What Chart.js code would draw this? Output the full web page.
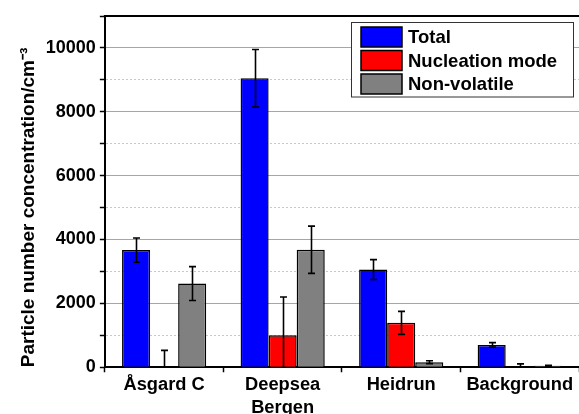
<!DOCTYPE html>
<html><head><meta charset="utf-8">
<script src="https://cdn.jsdelivr.net/npm/chart.js@4/dist/chart.umd.min.js"></script>
<style>html,body{margin:0;padding:0;background:#fff}#wrap{width:579px;height:414px;position:relative}</style>
</head><body><div id="wrap"><canvas id="c"></canvas></div>
<script>
const categories = ["Åsgard C", ["Deepsea", "Bergen"], "Heidrun", "Background"];
const seriesNames = ["Total", "Nucleation mode", "Non-volatile"];
const totalValues = [3670, 9050, 3060, 700];
const totalErrors = [380, 900, 310, 70];
const nucleationValues = [0, 1000, 1390, 20];
const nucleationErrors = [530, 1200, 360, 85];
const nonVolatileValues = [2620, 3680, 160, 45];
const nonVolatileErrors = [530, 740, 45, 15];
const yMin = 0, yMax = 11000, yStep = 1000, yLabelStep = 2000;
const yTitle = "Particle number concentration/cm\u207B\u00B3";

const FONT = "'Liberation Sans', Arial, sans-serif";

const errorBarPlugin = {
  id: 'errorBars',
  afterDatasetsDraw(chart) {
    const {ctx, chartArea, scales: {y}} = chart;
    ctx.save();
    ctx.beginPath();
    ctx.rect(chartArea.left, chartArea.top, chartArea.right - chartArea.left, chartArea.bottom - chartArea.top);
    ctx.clip();
    ctx.strokeStyle = '#000';
    ctx.lineWidth = 1.6;
    chart.data.datasets.forEach((ds, di) => {
      const meta = chart.getDatasetMeta(di);
      meta.data.forEach((bar, i) => {
        const v = ds.data[i], e = ds.errors[i];
        const x = Math.round(bar.x) + 0.5;
        const yt = y.getPixelForValue(v + e), yb = y.getPixelForValue(v - e);
        const cap = 3.5;
        ctx.beginPath();
        ctx.moveTo(x, yt); ctx.lineTo(x, yb);
        ctx.moveTo(x - cap, yt); ctx.lineTo(x + cap, yt);
        ctx.moveTo(x - cap, yb); ctx.lineTo(x + cap, yb);
        ctx.stroke();
      });
    });
    ctx.restore();
  }
};

const framePlugin = {
  id: 'frame',
  afterDraw(chart) {
    const {ctx, chartArea} = chart;
    ctx.save();
    ctx.strokeStyle = '#000';
    ctx.lineWidth = 2;
    ctx.beginPath();
    ctx.moveTo(chartArea.left - 1, chartArea.top);
    ctx.lineTo(chart.width, chartArea.top);
    ctx.stroke();
    // legend box
    const bw = 222, rowH = 23.5, boxW = 41, boxH = 20;
    const lx = chartArea.right - 6 - bw, ly = chartArea.top + 6;
    const n = chart.data.datasets.length;
    const bh = n * rowH + 4;
    ctx.fillStyle = '#fff';
    ctx.fillRect(lx, ly, bw, bh);
    ctx.lineWidth = 1;
    ctx.strokeStyle = '#333';
    ctx.strokeRect(lx + 0.5, ly + 0.5, bw, bh);
    ctx.font = "bold 18.5px " + FONT;
    ctx.textBaseline = 'middle';
    chart.data.datasets.forEach((ds, i) => {
      const by = ly + 5 + i * rowH;
      ctx.fillStyle = ds.backgroundColor;
      ctx.fillRect(lx + 10, by, boxW, boxH);
      ctx.lineWidth = 1.5;
      ctx.strokeStyle = '#000';
      ctx.strokeRect(lx + 10, by, boxW, boxH);
      ctx.fillStyle = '#000';
      ctx.fillText(ds.label, lx + 57, by + boxH / 2 + 1);
    });
    ctx.restore();
  }
};

const mk = (label, data, errors, color) => ({
  label, data, errors,
  backgroundColor: color, borderColor: '#000', borderWidth: 1.5,
  barPercentage: 1.0, categoryPercentage: 0.71
});

new Chart(document.getElementById('c'), {
  type: 'bar',
  data: {
    labels: categories,
    datasets: [
      mk(seriesNames[0], totalValues, totalErrors, '#0000ff'),
      mk(seriesNames[1], nucleationValues, nucleationErrors, '#ff0000'),
      mk(seriesNames[2], nonVolatileValues, nonVolatileErrors, '#808080')
    ]
  },
  options: {
    responsive: true, maintainAspectRatio: false, animation: false,
    devicePixelRatio: 1,
    layout: {padding: {left: 17, top: 16, right: 0, bottom: -6}},
    plugins: {legend: {display: false}, tooltip: {enabled: false}},
    scales: {
      x: {
        grid: {display: true, drawOnChartArea: false, drawTicks: true, tickLength: 5, tickColor: '#000', tickWidth: 1.5, offset: true},
        border: {display: true, color: '#000', width: 2},
        ticks: {color: '#000', padding: 1, font: {family: FONT, size: 18.3, weight: 'bold', lineHeight: 1.25}, maxRotation: 0, autoSkip: false}
      },
      y: {
        min: yMin, max: yMax,
        grid: {
          drawTicks: true, tickLength: 5, tickColor: '#000', tickWidth: 1.5, lineWidth: 1,
          color: (c) => {
            if (!c.tick) return '#999';
            const v = c.tick.value;
            if (v === yMax || v === yMin) return 'rgba(0,0,0,0)';
            return (v % yLabelStep === 0) ? '#a6a6a6' : '#c8c8c8';
          }
        },
        border: {
          display: true, color: '#000', width: 2,
          dash: (c) => (c.tick && c.tick.value % yLabelStep !== 0) ? [2, 2] : []
        },
        ticks: {
          stepSize: yStep, autoSkip: false, color: '#000', padding: 4,
          font: {family: FONT, size: 18, weight: 'bold'},
          callback: (v) => (v % yLabelStep === 0 && v < yMax) ? String(v) : ''
        },
        title: {display: true, text: yTitle, color: '#000', align: 'start', padding: {top: 0, bottom: 2},
          font: {family: FONT, size: 19, weight: 'bold'}}
      }
    }
  },
  plugins: [errorBarPlugin, framePlugin]
});
</script>
</body></html>
